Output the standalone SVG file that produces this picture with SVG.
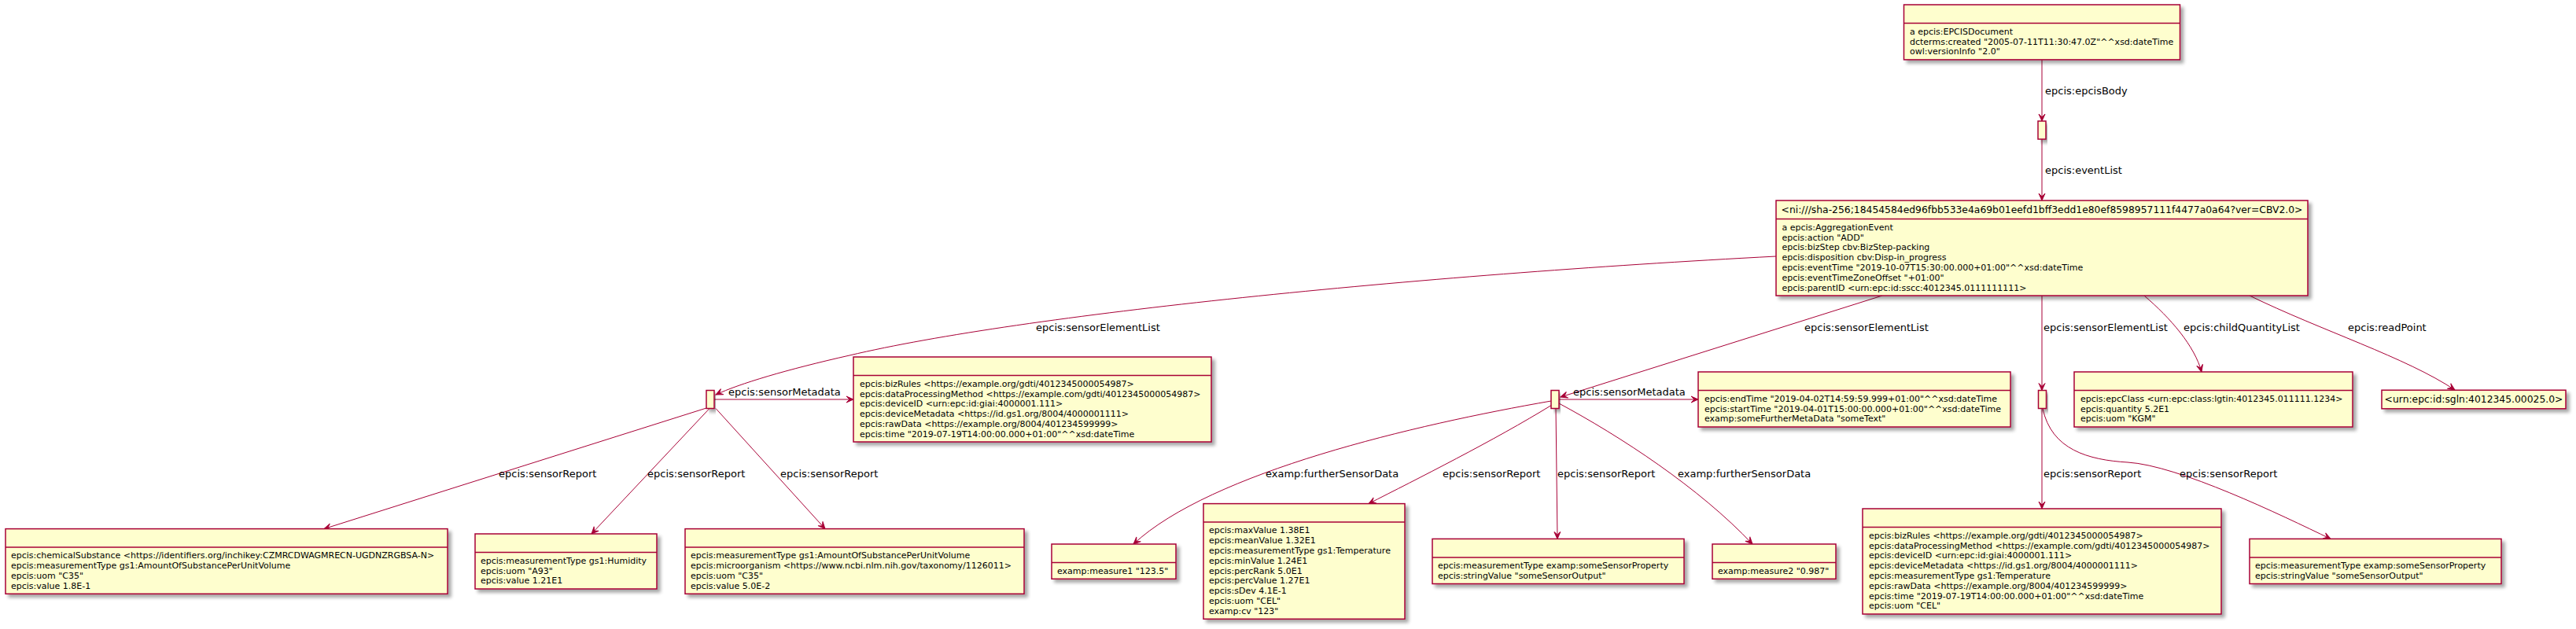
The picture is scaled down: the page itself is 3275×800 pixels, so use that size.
<svg xmlns="http://www.w3.org/2000/svg" width="3275" height="800" viewBox="0 0 3275 800">
<defs>
<style>
.n{fill:#FEFECE;stroke:#A80036;stroke-width:1.5;filter:url(#sh)}
.s{stroke:#A80036;stroke-width:1.5}
.b{font-family:"DejaVu Sans",sans-serif;font-size:11px;fill:#000}
.h{font-family:"DejaVu Sans",sans-serif;font-size:12.35px;fill:#000;text-anchor:middle}
.l{font-family:"DejaVu Sans",sans-serif;font-size:13px;fill:#000}
.e{fill:none;stroke:#A80036;stroke-width:1;marker-end:url(#arr)}
</style>
<filter id="sh" x="-10%" y="-10%" width="130%" height="150%">
<feGaussianBlur in="SourceAlpha" stdDeviation="2"/>
<feOffset dx="4" dy="4" result="o"/>
<feComponentTransfer><feFuncA type="linear" slope="0.35"/></feComponentTransfer>
<feMerge><feMergeNode/><feMergeNode in="SourceGraphic"/></feMerge>
</filter>
<marker id="arr" viewBox="-10 -5 11 10" markerWidth="11" markerHeight="10" refX="0" refY="0" orient="auto" markerUnits="userSpaceOnUse">
<path d="M0,0 L-9,-4 L-5,0 L-9,4 Z" fill="#A80036" stroke="#A80036" stroke-width="1"/>
</marker>
</defs>
<rect width="3275" height="800" fill="#FFFFFF"/>

<g id="connectors">
<path class="e" d="M2596,76 L2596,154"/>
<path class="e" d="M2596,177 L2596,255"/>
<path class="e" d="M2258,326 C1800,350 1300,400 1080,452 C1000,470 940,488 910,502"/>
<path class="e" d="M2393,376 L1984,505"/>
<path class="e" d="M2596,376 L2596,496.5"/>
<path class="e" d="M2726,376 C2760,405 2790,440 2799,473"/>
<path class="e" d="M2860,376 C2950,420 3060,455 3121,496"/>
<path class="e" d="M908,508 L1085,508"/>
<path class="e" d="M898,519 L412,672.6"/>
<path class="e" d="M902,519.5 L752,679"/>
<path class="e" d="M910,519.5 L1049,672.6"/>
<path class="e" d="M1982,508 L2159,508"/>
<path class="e" d="M1972,510 C1800,540 1540,600 1441,692"/>
<path class="e" d="M1973,515 C1900,560 1800,610 1740,640.6"/>
<path class="e" d="M1978,519.5 L1980,685.4"/>
<path class="e" d="M1982,513 C2060,555 2160,620 2228,692"/>
<path class="e" d="M2596,519.5 L2596,647"/>
<path class="e" d="M2597,519.5 C2608,572 2655,585 2705,588 C2770,592 2900,655 2963,685.4"/>
<text class="l" x="2600" y="119.5">epcis:epcisBody</text>
<text class="l" x="2600" y="220.5">epcis:eventList</text>
<text class="l" x="1317" y="420.5">epcis:sensorElementList</text>
<text class="l" x="2294" y="420.5">epcis:sensorElementList</text>
<text class="l" x="2598" y="420.5">epcis:sensorElementList</text>
<text class="l" x="2776" y="420.5">epcis:childQuantityList</text>
<text class="l" x="2985" y="420.5">epcis:readPoint</text>
<text class="l" x="926" y="502.5">epcis:sensorMetadata</text>
<text class="l" x="2000" y="502.5">epcis:sensorMetadata</text>
<text class="l" x="634" y="606.5">epcis:sensorReport</text>
<text class="l" x="823" y="606.5">epcis:sensorReport</text>
<text class="l" x="992" y="606.5">epcis:sensorReport</text>
<text class="l" x="1609" y="606.5">examp:furtherSensorData</text>
<text class="l" x="1834" y="606.5">epcis:sensorReport</text>
<text class="l" x="1980" y="606.5">epcis:sensorReport</text>
<text class="l" x="2133" y="606.5">examp:furtherSensorData</text>
<text class="l" x="2598" y="606.5">epcis:sensorReport</text>
<text class="l" x="2771" y="606.5">epcis:sensorReport</text>
</g>

<g id="epcisDocument">
<rect class="n" x="2420.5" y="6" width="351" height="69.9"/>
<line class="s" x1="2420.5" y1="29.5" x2="2771.5" y2="29.5"/>
<text class="b" x="2428" y="43.7">a epcis:EPCISDocument</text>
<text class="b" x="2428" y="56.5">dcterms:created "2005-07-11T11:30:47.0Z"^^xsd:dateTime</text>
<text class="b" x="2428" y="69.3">owl:versionInfo "2.0"</text>
</g>

<g id="bodyBlank">
<rect class="n" x="2591" y="154" width="10" height="23"/>
</g>

<g id="aggregationEvent">
<rect class="n" x="2258" y="255" width="676" height="121"/>
<line class="s" x1="2258" y1="278.5" x2="2934" y2="278.5"/>
<text class="h" x="2596" y="271.2">&lt;ni:///sha-256;18454584ed96fbb533e4a69b01eefd1bff3edd1e80ef8598957111f4477a0a64?ver=CBV2.0&gt;</text>
<text class="b" x="2265.5" y="292.7">a epcis:AggregationEvent</text>
<text class="b" x="2265.5" y="305.5">epcis:action "ADD"</text>
<text class="b" x="2265.5" y="318.3">epcis:bizStep cbv:BizStep-packing</text>
<text class="b" x="2265.5" y="331.1">epcis:disposition cbv:Disp-in_progress</text>
<text class="b" x="2265.5" y="343.9">epcis:eventTime "2019-10-07T15:30:00.000+01:00"^^xsd:dateTime</text>
<text class="b" x="2265.5" y="356.7">epcis:eventTimeZoneOffset "+01:00"</text>
<text class="b" x="2265.5" y="369.5">epcis:parentID &lt;urn:epc:id:sscc:4012345.0111111111&gt;</text>
</g>

<g id="sensorElement1">
<rect class="n" x="898" y="496.5" width="10" height="23"/>
</g>
<g id="sensorElement2">
<rect class="n" x="1972" y="496.5" width="10" height="23"/>
</g>
<g id="sensorElement3">
<rect class="n" x="2591.5" y="496.5" width="10" height="23"/>
</g>

<g id="sensorMetadata1">
<rect class="n" x="1085" y="454" width="455" height="108"/>
<line class="s" x1="1085" y1="477.5" x2="1540" y2="477.5"/>
<text class="b" x="1093" y="491.7">epcis:bizRules &lt;https://example.org/gdti/4012345000054987&gt;</text>
<text class="b" x="1093" y="504.5">epcis:dataProcessingMethod &lt;https://example.com/gdti/4012345000054987&gt;</text>
<text class="b" x="1093" y="517.3">epcis:deviceID &lt;urn:epc:id:giai:4000001.111&gt;</text>
<text class="b" x="1093" y="530.1">epcis:deviceMetadata &lt;https://id.gs1.org/8004/4000001111&gt;</text>
<text class="b" x="1093" y="542.9">epcis:rawData &lt;https://example.org/8004/401234599999&gt;</text>
<text class="b" x="1093" y="555.7">epcis:time "2019-07-19T14:00:00.000+01:00"^^xsd:dateTime</text>
</g>

<g id="sensorMetadata2">
<rect class="n" x="2159" y="473" width="397" height="70"/>
<line class="s" x1="2159" y1="496.5" x2="2556" y2="496.5"/>
<text class="b" x="2167" y="510.7">epcis:endTime "2019-04-02T14:59:59.999+01:00"^^xsd:dateTime</text>
<text class="b" x="2167" y="523.5">epcis:startTime "2019-04-01T15:00:00.000+01:00"^^xsd:dateTime</text>
<text class="b" x="2167" y="536.3">examp:someFurtherMetaData "someText"</text>
</g>

<g id="childQuantity">
<rect class="n" x="2637" y="473" width="354" height="70"/>
<line class="s" x1="2637" y1="496.5" x2="2991" y2="496.5"/>
<text class="b" x="2645" y="510.7">epcis:epcClass &lt;urn:epc:class:lgtin:4012345.011111.1234&gt;</text>
<text class="b" x="2645" y="523.5">epcis:quantity 5.2E1</text>
<text class="b" x="2645" y="536.3">epcis:uom "KGM"</text>
</g>

<g id="readPoint">
<rect class="n" x="3028" y="496.2" width="234" height="23.6"/>
<text class="h" x="3145" y="512.4">&lt;urn:epc:id:sgln:4012345.00025.0&gt;</text>
</g>

<g id="report1">
<rect class="n" x="7" y="672.6" width="562" height="82.7"/>
<line class="s" x1="7" y1="696.1" x2="569" y2="696.1"/>
<text class="b" x="14" y="710.3">epcis:chemicalSubstance &lt;https://identifiers.org/inchikey:CZMRCDWAGMRECN-UGDNZRGBSA-N&gt;</text>
<text class="b" x="14" y="723.1">epcis:measurementType gs1:AmountOfSubstancePerUnitVolume</text>
<text class="b" x="14" y="735.9">epcis:uom "C35"</text>
<text class="b" x="14" y="748.7">epcis:value 1.8E-1</text>
</g>

<g id="report2">
<rect class="n" x="604" y="679" width="231" height="70"/>
<line class="s" x1="604" y1="702.5" x2="835" y2="702.5"/>
<text class="b" x="611" y="716.7">epcis:measurementType gs1:Humidity</text>
<text class="b" x="611" y="729.5">epcis:uom "A93"</text>
<text class="b" x="611" y="742.3">epcis:value 1.21E1</text>
</g>

<g id="report3">
<rect class="n" x="871" y="672.6" width="431" height="82.7"/>
<line class="s" x1="871" y1="696.1" x2="1302" y2="696.1"/>
<text class="b" x="878" y="710.3">epcis:measurementType gs1:AmountOfSubstancePerUnitVolume</text>
<text class="b" x="878" y="723.1">epcis:microorganism &lt;https://www.ncbi.nlm.nih.gov/taxonomy/1126011&gt;</text>
<text class="b" x="878" y="735.9">epcis:uom "C35"</text>
<text class="b" x="878" y="748.7">epcis:value 5.0E-2</text>
</g>

<g id="further1">
<rect class="n" x="1337" y="692" width="158" height="44.3"/>
<line class="s" x1="1337" y1="715.5" x2="1495" y2="715.5"/>
<text class="b" x="1344" y="729.7">examp:measure1 "123.5"</text>
</g>

<g id="report4">
<rect class="n" x="1530" y="640.6" width="256" height="146.7"/>
<line class="s" x1="1530" y1="664.1" x2="1786" y2="664.1"/>
<text class="b" x="1537" y="678.3">epcis:maxValue 1.38E1</text>
<text class="b" x="1537" y="691.1">epcis:meanValue 1.32E1</text>
<text class="b" x="1537" y="703.9">epcis:measurementType gs1:Temperature</text>
<text class="b" x="1537" y="716.7">epcis:minValue 1.24E1</text>
<text class="b" x="1537" y="729.5">epcis:percRank 5.0E1</text>
<text class="b" x="1537" y="742.3">epcis:percValue 1.27E1</text>
<text class="b" x="1537" y="755.1">epcis:sDev 4.1E-1</text>
<text class="b" x="1537" y="767.9">epcis:uom "CEL"</text>
<text class="b" x="1537" y="780.7">examp:cv "123"</text>
</g>

<g id="report5">
<rect class="n" x="1821" y="685.4" width="320" height="57.1"/>
<line class="s" x1="1821" y1="708.9" x2="2141" y2="708.9"/>
<text class="b" x="1828" y="723.1">epcis:measurementType examp:someSensorProperty</text>
<text class="b" x="1828" y="735.9">epcis:stringValue "someSensorOutput"</text>
</g>

<g id="further2">
<rect class="n" x="2177" y="692" width="157" height="44.3"/>
<line class="s" x1="2177" y1="715.5" x2="2334" y2="715.5"/>
<text class="b" x="2184" y="729.7">examp:measure2 "0.987"</text>
</g>

<g id="report6">
<rect class="n" x="2368" y="647" width="456" height="134"/>
<line class="s" x1="2368" y1="670.5" x2="2824" y2="670.5"/>
<text class="b" x="2376" y="684.7">epcis:bizRules &lt;https://example.org/gdti/4012345000054987&gt;</text>
<text class="b" x="2376" y="697.5">epcis:dataProcessingMethod &lt;https://example.com/gdti/4012345000054987&gt;</text>
<text class="b" x="2376" y="710.3">epcis:deviceID &lt;urn:epc:id:giai:4000001.111&gt;</text>
<text class="b" x="2376" y="723.1">epcis:deviceMetadata &lt;https://id.gs1.org/8004/4000001111&gt;</text>
<text class="b" x="2376" y="735.9">epcis:measurementType gs1:Temperature</text>
<text class="b" x="2376" y="748.7">epcis:rawData &lt;https://example.org/8004/401234599999&gt;</text>
<text class="b" x="2376" y="761.5">epcis:time "2019-07-19T14:00:00.000+01:00"^^xsd:dateTime</text>
<text class="b" x="2376" y="774.3">epcis:uom "CEL"</text>
</g>

<g id="report7">
<rect class="n" x="2860" y="685.4" width="320" height="57.1"/>
<line class="s" x1="2860" y1="708.9" x2="3180" y2="708.9"/>
<text class="b" x="2867" y="723.1">epcis:measurementType examp:someSensorProperty</text>
<text class="b" x="2867" y="735.9">epcis:stringValue "someSensorOutput"</text>
</g>
</svg>
